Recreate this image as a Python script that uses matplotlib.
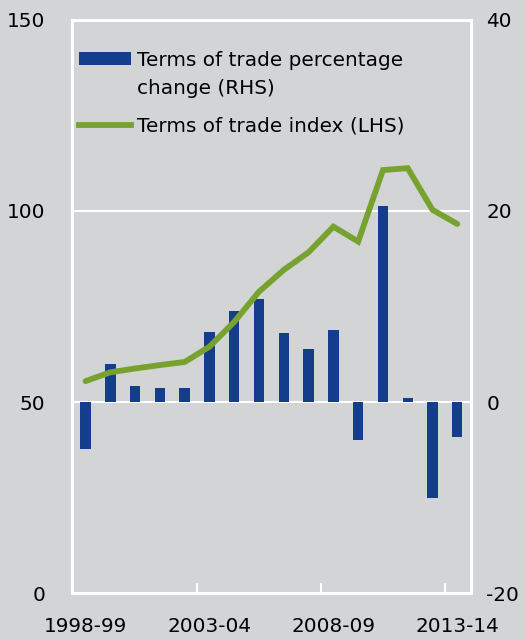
import matplotlib.pyplot as plt
from matplotlib.patches import Patch, Rectangle
from matplotlib.lines import Line2D
from matplotlib.legend_handler import HandlerPatch
import numpy as np

plt.rcParams["axes.unicode_minus"] = False

# Financial years
years = ["1998-99", "1999-00", "2000-01", "2001-02", "2002-03", "2003-04",
         "2004-05", "2005-06", "2006-07", "2007-08", "2008-09", "2009-10",
         "2010-11", "2011-12", "2012-13", "2013-14"]

# Terms of trade percentage change (RHS)
tot_change = [-4.9, 4.0, 1.7, 1.5, 1.5, 7.3, 9.5, 10.8, 7.2, 5.6, 7.5, -4.0,
              20.5, 0.4, -10.0, -3.7]

# Terms of trade index (LHS)
tot_index = [55.5, 57.8, 58.8, 59.7, 60.5, 64.5, 71.0, 78.9, 84.6, 89.2, 95.9,
             92.0, 110.7, 111.2, 100.3, 96.6]

tick_labels = ["1998-99", "2003-04", "2008-09", "2013-14"]

bar_col = "#143d8c"
line_col = "#78a22f"
fig_bg = "#d3d4d6"
ax_bg = "#e6e7e9"
fs = 14.4

fig = plt.figure(figsize=(5.25, 6.4), dpi=100, facecolor=fig_bg)
ax = fig.add_axes([0.137, 0.073, 0.76, 0.896])
ax2 = ax.twinx()

x = np.arange(len(years))

ax2.bar(x, tot_change, width=0.42, color=bar_col, zorder=2)
ax.plot(x, tot_index, color=line_col, linewidth=4.2, solid_capstyle="round",
        solid_joinstyle="miter", zorder=3)
ax.set_zorder(ax2.get_zorder() + 1)
ax.patch.set_visible(False)
ax2.patch.set_facecolor(ax_bg)

ax.set_ylim(0, 150)
ax2.set_ylim(-20, 40)
ax.set_xlim(-0.55, len(years) - 0.45)

ax.set_yticks([0, 50, 100, 150])
ax2.set_yticks([-20, 0, 20, 40])
for y in [50, 100]:
    ax2.axhline((y / 150) * 60 - 20, color="white", linewidth=1.5, zorder=1)

ax.set_xticks([years.index(t) for t in tick_labels])
ax.set_xticklabels(tick_labels)
ax.set_xticks([4.5, 9.5, 14.5], minor=True)

ax.tick_params(axis="y", length=0, labelsize=fs, pad=19)
ax2.tick_params(axis="y", length=0, labelsize=fs, pad=11)
ax.tick_params(axis="x", which="major", length=0, labelsize=fs, pad=17)
ax.tick_params(axis="x", which="minor", direction="in", length=7,
               color="white", width=1.5)

for a in (ax, ax2):
    for s in a.spines.values():
        s.set_color("white")
        s.set_linewidth(2)


# bar handle sits beside the first line of its two-line label
def top_patch(legend, orig_handle, xdescent, ydescent, width, height, fontsize):
    return Rectangle((-xdescent, -ydescent + 0.85 * fontsize), width, height)


handles = [Patch(facecolor=bar_col, edgecolor="none"),
           Line2D([0], [0], color=line_col, linewidth=4.2)]
labels = ["Terms of trade percentage\nchange (RHS)", "Terms of trade index (LHS)"]
leg = ax.legend(handles, labels, loc="upper left", bbox_to_anchor=(-0.012, 0.966),
                frameon=False, fontsize=fs, handlelength=2.6, handleheight=0.6,
                handletextpad=0.3, labelspacing=0.9, borderaxespad=0.2,
                handler_map={Patch: HandlerPatch(patch_func=top_patch)})
leg.get_texts()[0].set_linespacing(1.6)

fig.savefig("out.png", dpi=100, facecolor=fig_bg)
